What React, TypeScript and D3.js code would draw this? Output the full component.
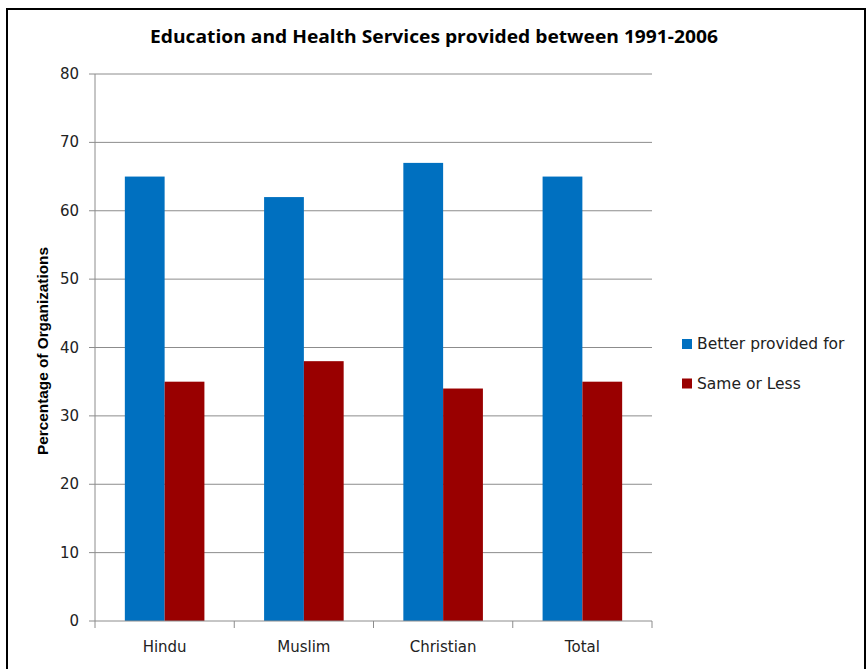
import React from "react";
import * as d3 from "d3";

const categories = ["Hindu", "Muslim", "Christian", "Total"];
const seriesNames = ["Better provided for", "Same or Less"];
const betterValues = [65, 62, 67, 65];
const sameOrLessValues = [35, 38, 34, 35];
const yTicks = [0, 10, 20, 30, 40, 50, 60, 70, 80];
const colors = ["#0070C0", "#990000"];

const W = 868;
const H = 669;
const plot = { left: 95, right: 652, top: 74, bottom: 621 };

export default function App() {
  const x0 = d3.scaleBand<string>().domain(categories).range([plot.left, plot.right]).paddingInner(0).paddingOuter(0);
  const x1 = d3.scaleBand<string>().domain(seriesNames).range([0, x0.bandwidth()]).paddingInner(0).paddingOuter(0.75);
  const y = d3.scaleLinear().domain([0, 80]).range([plot.bottom, plot.top]);
  const series = [betterValues, sameOrLessValues];
  const boundaries = d3.range(categories.length + 1).map((i) => plot.left + i * x0.step());
  const tickFont = "'DejaVu Sans', Verdana, sans-serif";

  return (
    <svg width={W} height={H} style={{ position: "absolute", left: 0, top: 0, background: "#fff" }}>
      <rect x={0} y={0} width={W} height={H} fill="#fff" />
      <rect x={7} y={9} width={858} height={700} fill="none" stroke="#000" strokeWidth={2} />
      <text x={434} y={43} textAnchor="middle" fontFamily="'Open Sans', 'Noto Sans', sans-serif" fontWeight="bold" fontSize={17} textLength={568} lengthAdjust="spacingAndGlyphs" fill="#000">
        Education and Health Services provided between 1991-2006
      </text>
      {yTicks.filter((t) => t > 0).map((t) => (
        <line key={"g" + t} x1={plot.left} x2={plot.right} y1={y(t)} y2={y(t)} stroke="#8c8c8c" strokeWidth={1} />
      ))}
      {categories.map((c, ci) => (
        <g key={c} transform={`translate(${x0(c)},0)`}>
          {seriesNames.map((s, si) => (
            <rect key={s} x={x1(s)} y={y(series[si][ci])} width={x1.bandwidth()} height={y(0) - y(series[si][ci])} fill={colors[si]} />
          ))}
        </g>
      ))}
      <line x1={plot.left} x2={plot.left} y1={plot.top} y2={plot.bottom} stroke="#8c8c8c" strokeWidth={1} />
      {yTicks.map((t) => (
        <g key={"t" + t}>
          <line x1={plot.left - 6} x2={plot.left} y1={y(t)} y2={y(t)} stroke="#8c8c8c" />
          <text x={79} y={y(t) + 5} textAnchor="end" fontFamily={tickFont} fontSize={15} fill="#222">{t}</text>
        </g>
      ))}
      <line x1={plot.left} x2={plot.right} y1={plot.bottom} y2={plot.bottom} stroke="#8c8c8c" strokeWidth={1} />
      {boundaries.map((b, i) => (
        <line key={"xb" + i} x1={b} x2={b} y1={plot.bottom} y2={plot.bottom + 7} stroke="#8c8c8c" />
      ))}
      {categories.map((c) => (
        <text key={"xl" + c} x={(x0(c) as number) + x0.bandwidth() / 2} y={652} textAnchor="middle" fontFamily={tickFont} fontSize={15} fill="#222">{c}</text>
      ))}
      <text transform={`translate(48,351) rotate(-90)`} textAnchor="middle" fontFamily="'Liberation Sans', Arial, sans-serif" fontWeight="bold" fontSize={14} textLength={208} lengthAdjust="spacingAndGlyphs" fill="#000">
        Percentage of Organizations
      </text>
      {seriesNames.map((s, i) => (
        <g key={"lg" + s} transform={`translate(682,${339 + i * 39.5})`}>
          <rect x={0} y={0} width={10} height={10} fill={colors[i]} />
          <text x={15} y={10} fontFamily={tickFont} fontSize={15.5} fill="#222">{s}</text>
        </g>
      ))}
    </svg>
  );
}
